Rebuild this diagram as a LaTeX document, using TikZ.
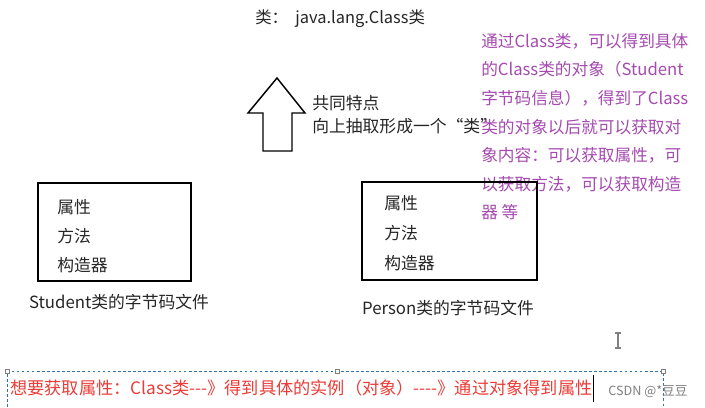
\documentclass[tikz,border=0pt]{standalone}
\usepackage{fontspec}
\setmainfont{Noto Sans CJK SC}
\newfontfamily\plainf{Noto Sans CJK SC}
\begin{document}
\begin{tikzpicture}[x=0.75pt,y=-0.75pt,
  txt/.style={anchor=west,inner sep=0pt,font=\fontsize{12.6}{14}\selectfont,text=black!85},
  purp/.style={anchor=west,inner sep=0pt,font=\fontsize{12.5}{14}\selectfont,text=purpc},
  cls/.style={draw=black,line width=1.5pt},
  handle/.style={draw=gray,fill=white,line width=0.4pt,minimum size=3pt,inner sep=0pt}]
\definecolor{purpc}{RGB}{165,75,175}
\definecolor{redc}{RGB}{235,60,55}
\definecolor{bluec}{RGB}{50,115,170}
\useasboundingbox[fill=white] (0,0) rectangle (705,407);

\node[txt,font=\fontsize{12.3}{14}\selectfont] (top) at (255,19) {类：\ \ java.lang.Class类};

\draw[line width=1.1pt] (263,151) -- (263,113) -- (248,113) -- (277,78) -- (305,113) -- (292,113) -- (292,151) -- cycle;
\node[txt] (c1) at (312,103) {共同特点};
\node[txt] (c2) at (312,126) {向上抽取形成一个“类”};

\foreach \t [count=\i] in {通过Class类，可以得到具体,的Class类的对象（Student,字节码信息），得到了Class,类的对象以后就可以获取对,象内容：可以获取属性，可,以获取方法，可以获取构造,器 等}
  \node[purp] (p\i) at (481,{41+28.6*(\i-1)}) {\t};

\draw[cls] (38,183) rectangle (191,281);
\node[txt] (s1) at (57,207) {属性};
\node[txt] (s2) at (57,236) {方法};
\node[txt] (s3) at (57,265) {构造器};
\node[txt,anchor=center] (sl) at (119,302) {Student类的字节码文件};

\draw[cls] (362,182) rectangle (537,280);
\node[txt] (r1) at (384,203) {属性};
\node[txt] (r2) at (384,233) {方法};
\node[txt] (r3) at (384,263) {构造器};
\node[txt,anchor=center] (rl) at (448,308) {Person类的字节码文件};

\draw[bluec,dashed,line width=0.6pt,dash pattern=on 2pt off 1.8pt] (7,407) -- (7,371) -- (663,371) -- (663,407);
\node[handle] (h1) at (7,371) {};
\node[handle] (h2) at (337,371) {};
\node[handle] (h3) at (663,371) {};
\node[anchor=west,inner sep=0pt,font=\plainf\fontsize{12.9}{14}\selectfont,text=redc] (bt) at (10,388) {想要获取属性：Class类---》得到具体的实例（对象）----》通过对象得到属性};
\draw[black,line width=0.8pt] (bt.east) ++(1,-13) -- ++(0,27);
\draw[gray,line width=0.8pt] (618,333) -- (618,348) (615,333) -- (621,333) (615,348) -- (621,348);
\node[anchor=west,inner sep=0pt,font=\fontsize{9.5}{10}\selectfont,text=gray] (wm) at (608,392) {CSDN @*豆豆};
\end{tikzpicture}
\end{document}
